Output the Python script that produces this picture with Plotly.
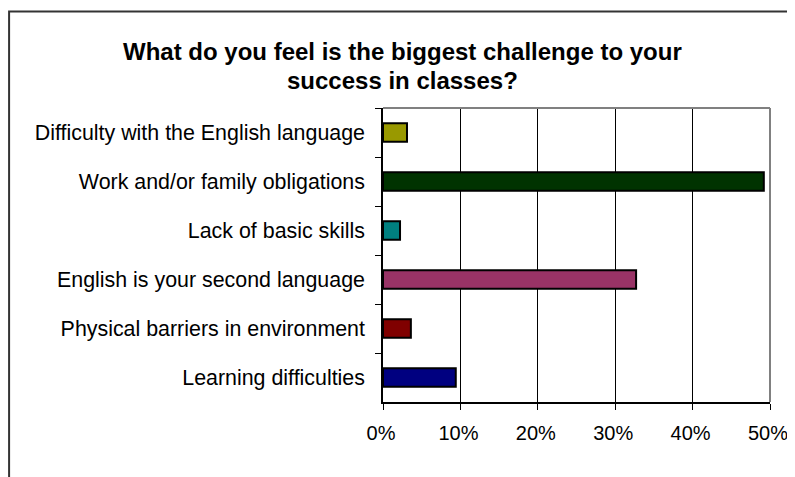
import plotly.graph_objects as go

categories = [
    "Difficulty with the English language",
    "Work and/or family obligations",
    "Lack of basic skills",
    "English is your second language",
    "Physical barriers in environment",
    "Learning difficulties",
]
values = [3.1, 49.2, 2.2, 32.7, 3.6, 9.4]
colors = ["#999900", "#003300", "#008080", "#993366", "#800000", "#000080"]
tick_vals = [0, 10, 20, 30, 40, 50]
tick_text = ["0%", "10%", "20%", "30%", "40%", "50%"]
title_lines = ["What do you feel is the biggest challenge to your", "success in classes?"]

# page body has an 8px default margin
OFF = 8
W, H = 795 - OFF, 477 - OFF
L, R, T, B = 382.7 - OFF, 770 - OFF, 108 - OFF, 402 - OFF

def px(x):
    return (x - OFF - L) / (R - L)

def py(y):
    return (B - (y - OFF)) / (B - T)

fig = go.Figure(go.Bar(
    x=values, y=categories, orientation="h",
    marker=dict(color=colors, line=dict(color="#000000", width=2)),
    width=0.38,
))

fig.update_layout(
    width=W, height=H, autosize=False,
    margin=dict(l=L, r=W - R, t=T, b=H - B, pad=0),
    paper_bgcolor="white", plot_bgcolor="white",
    showlegend=False,
    font=dict(family="Arial, Liberation Sans, sans-serif", color="#000000"),
    xaxis=dict(
        range=[0, 50], tickvals=tick_vals, ticktext=tick_text, automargin=False,
        showgrid=True, gridcolor="#000000", gridwidth=1,
        showline=True, linecolor="#000000", linewidth=1.5,
        ticks="outside", ticklen=6, tickcolor="#000000", tickwidth=1,
        tickfont=dict(size=20), ticklabelstandoff=6, ticklabelshift=-2,
        zeroline=False, fixedrange=True,
    ),
    yaxis=dict(
        autorange="reversed", type="category", automargin=False,
        showline=True, linecolor="#000000", linewidth=1.5,
        ticks="outside", ticklen=6, tickcolor="#000000", tickwidth=1,
        tickson="boundaries", showgrid=False,
        tickfont=dict(size=21.4), ticklabelstandoff=12,
        fixedrange=True,
    ),
    shapes=[
        dict(type="line", xref="paper", yref="paper", x0=0, x1=1, y0=1, y1=1,
             line=dict(color="#808080", width=2)),
        dict(type="line", xref="paper", yref="paper", x0=1, x1=1, y0=0, y1=1,
             line=dict(color="#808080", width=2)),
        dict(type="rect", xref="paper", yref="paper",
             x0=px(8.5), x1=px(800), y0=py(500), y1=py(11.5),
             line=dict(color="#333333", width=2), fillcolor="rgba(0,0,0,0)",
             layer="below"),
    ],
    annotations=[
        dict(text="<b>" + title_lines[0] + "</b>", xref="paper", yref="paper",
             x=px(402.5), y=py(61.7), xanchor="center", yanchor="bottom", yshift=-5,
             showarrow=False, font=dict(size=24)),
        dict(text="<b>" + title_lines[1] + "</b>", xref="paper", yref="paper",
             x=px(402.5), y=py(90.5), xanchor="center", yanchor="bottom", yshift=-5,
             showarrow=False, font=dict(size=24)),
    ],
)

fig.write_html("out.html")
